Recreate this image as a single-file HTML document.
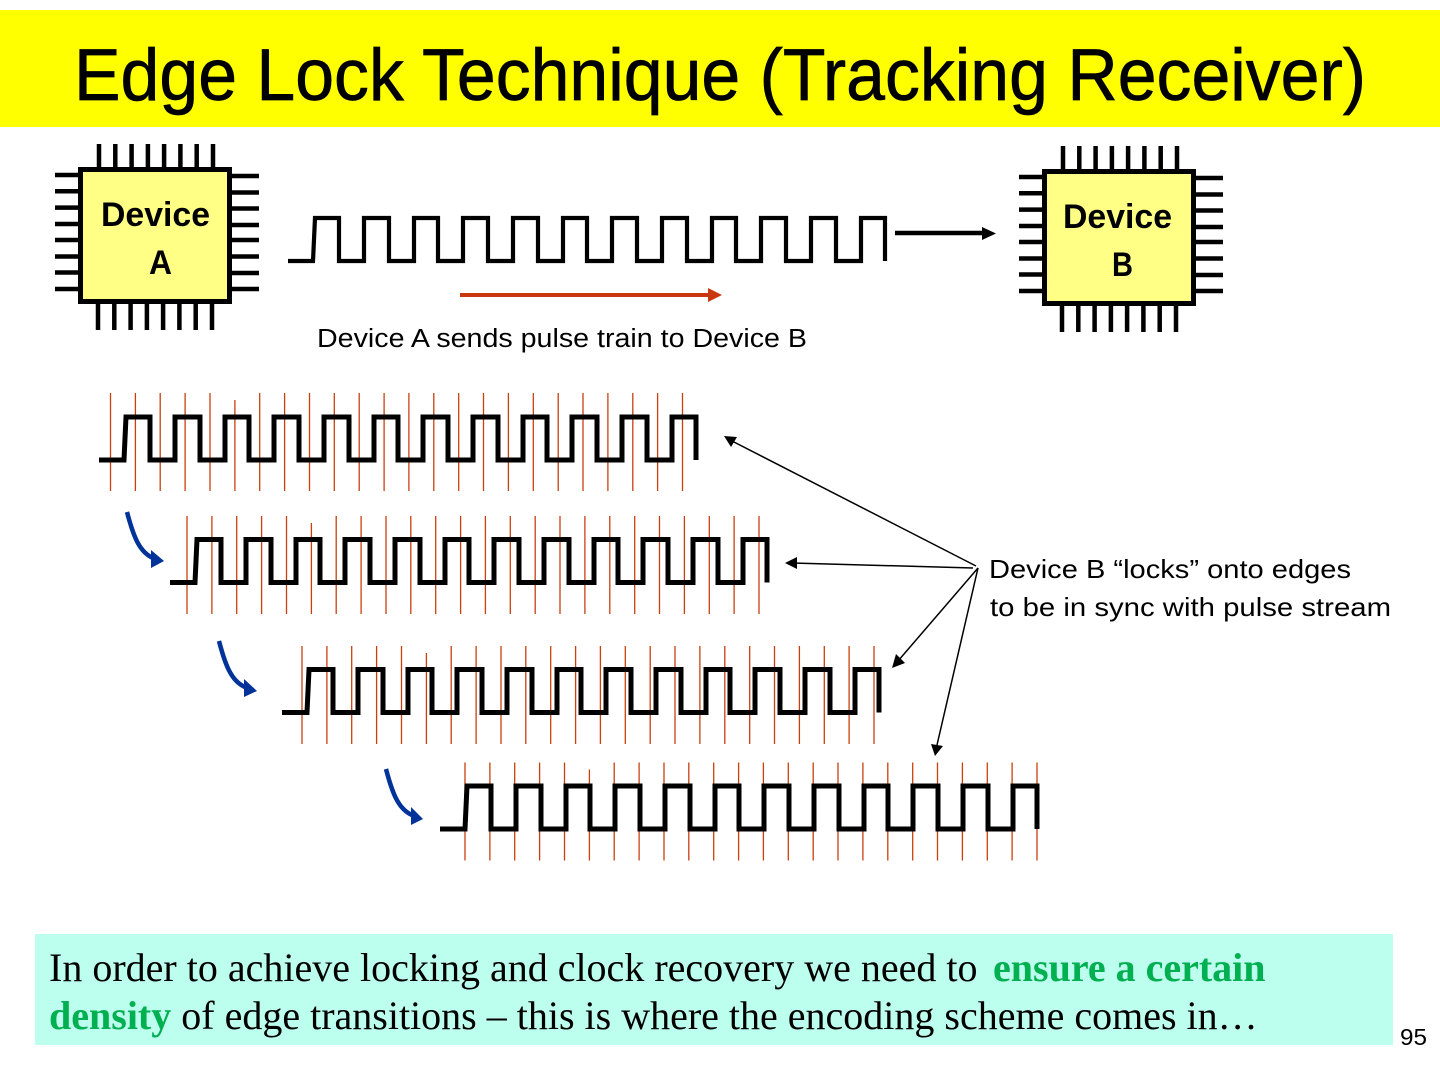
<!DOCTYPE html>
<html>
<head>
<meta charset="utf-8">
<title>Edge Lock Technique</title>
<style>
html,body{margin:0;padding:0;background:#fff;width:1440px;height:1080px;overflow:hidden}
svg{display:block}
.cal{font-family:"Liberation Sans",sans-serif}
.ser{font-family:"Liberation Serif",serif;font-size:40px}
</style>
</head>
<body>
<svg width="1440" height="1080" viewBox="0 0 1440 1080" xmlns="http://www.w3.org/2000/svg">
<defs>
  <path id="wave" fill="none" stroke="#000" stroke-linejoin="miter" d="M0 43 H25 L27 0 H51 V43 H76 V0 H101 V43 H126 V0 H150 V43 H175 V0 H200 V43 H225 V0 H250 V43 H275 V0 H299 V43 H324 V0 H349 V43 H374 V0 H399 V43 H424 V0 H448 V43 H473 V0 H498 V43 H523 V0 H548 V43 H573 V0 H597 V43"/>
  <path id="ticks" fill="none" stroke="#C9400F" stroke-width="1.300" d="M0 0V98M24.900 0V98M49.700 0V98M74.600 0V98M99.500 0V98M124.400 7V98M149.200 0V98M174.100 0V98M199 0V98M223.800 0V98M248.700 0V98M273.600 0V98M298.400 0V98M323.300 0V98M348.200 0V98M373 0V98M397.900 0V98M422.800 0V98M447.700 0V98M472.500 0V98M497.400 0V98M522.300 0V98M547.100 0V98M572 0V98"/>
  <g id="chip">
    <g stroke="#000" stroke-width="4.500" fill="none">
      <path d="M99 144V167M115.300 144V167M131.600 144V167M147.900 144V167M164.100 144V167M180.400 144V167M196.700 144V167M213 144V167"/>
      <path d="M98 304V330M114.300 304V330M130.600 304V330M146.900 304V330M163.100 304V330M179.400 304V330M195.700 304V330M212 304V330"/>
      <path d="M55 175H78M55 191.300H78M55 207.600H78M55 224H78M55 240H78M55 256.500H78M55 272.500H78M55 289H78"/>
      <path d="M232 176H259M232 192.500H259M232 208.500H259M232 225H259M232 240H259M232 256.500H259M232 273H259M232 289H259"/>
    </g>
    <rect x="80.500" y="169.500" width="149" height="132" fill="#FFFF85" stroke="#000" stroke-width="5"/>
  </g>
</defs>

<rect x="0" y="10" width="1440" height="117" fill="#FFFF00"/>
<text class="cal" x="74" y="100" font-size="73" textLength="1292" lengthAdjust="spacingAndGlyphs" fill="#000" stroke="#000" stroke-width="0.700">Edge Lock Technique (Tracking Receiver)</text>

<use href="#chip"/>
<use href="#chip" x="964" y="2"/>
<g class="cal" font-weight="bold" font-size="34" fill="#000">
  <text x="101" y="226" textLength="109" lengthAdjust="spacingAndGlyphs">Device</text>
  <text x="149" y="274" textLength="23" lengthAdjust="spacingAndGlyphs">A</text>
  <text x="1063" y="228" textLength="109" lengthAdjust="spacingAndGlyphs">Device</text>
  <text x="1112" y="276" textLength="21" lengthAdjust="spacingAndGlyphs">B</text>
</g>

<use href="#wave" x="288" y="218" stroke-width="4.200"/>
<path d="M895 233H985" stroke="#000" stroke-width="4.500"/>
<path d="M982 227L996 233.500L982 240z" fill="#000"/>
<path d="M460 295H710" stroke="#C9380F" stroke-width="4"/>
<path d="M708 288L722 295L708 302z" fill="#C9380F"/>
<text class="cal" x="317" y="347" font-size="25.500" textLength="490" lengthAdjust="spacingAndGlyphs" fill="#000">Device A sends pulse train to Device B</text>

<use href="#ticks" x="110.500" y="393"/>
<use href="#ticks" x="187" y="516"/>
<use href="#ticks" x="302" y="646"/>
<use href="#ticks" x="465" y="762.500"/>
<use href="#wave" x="99" y="417" stroke-width="5"/>
<use href="#wave" x="170" y="539.500" stroke-width="5"/>
<use href="#wave" x="282" y="669.500" stroke-width="5"/>
<use href="#wave" x="440" y="786" stroke-width="5"/>

<g fill="none" stroke="#003399" stroke-width="4.500">
  <path d="M127 512C133 535 139 552 153 558"/>
  <path d="M219 641C225 664 231 681 245 687"/>
  <path d="M386 769C392 792 398 809 412 815"/>
</g>
<g fill="#003399">
  <path d="M151 550L164 561L151 568z"/>
  <path d="M244 679L257 691L244 697z"/>
  <path d="M411 807L423 819L411 825z"/>
</g>

<g stroke="#000" stroke-width="1.500" fill="none">
  <path d="M976 566L732 441"/>
  <path d="M973 568L792 563"/>
  <path d="M978 568L898 661"/>
  <path d="M978 568L937 745"/>
</g>
<g fill="#000">
  <path d="M724 436L737 437L731 447z"/>
  <path d="M785 563L797 557L797 569z"/>
  <path d="M892 668L896 654L905 663z"/>
  <path d="M935 756L931 744L943 746z"/>
</g>

<g class="cal" font-size="26" fill="#000">
  <text x="989" y="578" textLength="362" lengthAdjust="spacingAndGlyphs">Device B “locks” onto edges</text>
  <text x="990" y="616" textLength="401" lengthAdjust="spacingAndGlyphs">to be in sync with pulse stream</text>
</g>

<rect x="35" y="934" width="1358" height="111" fill="#BDFFEE"/>
<text class="ser" x="49" y="981" fill="#000">In order to achieve locking and clock recovery we need to <tspan x="993" font-weight="bold" fill="#00B050">ensure a certain</tspan></text>
<text class="ser" x="49" y="1029" fill="#000"><tspan font-weight="bold" fill="#00B050">density</tspan> of edge transitions – this is where the encoding scheme comes in…</text>
<text class="cal" x="1400" y="1045" font-size="23" fill="#000" textLength="27" lengthAdjust="spacingAndGlyphs">95</text>
</svg>
</body>
</html>
